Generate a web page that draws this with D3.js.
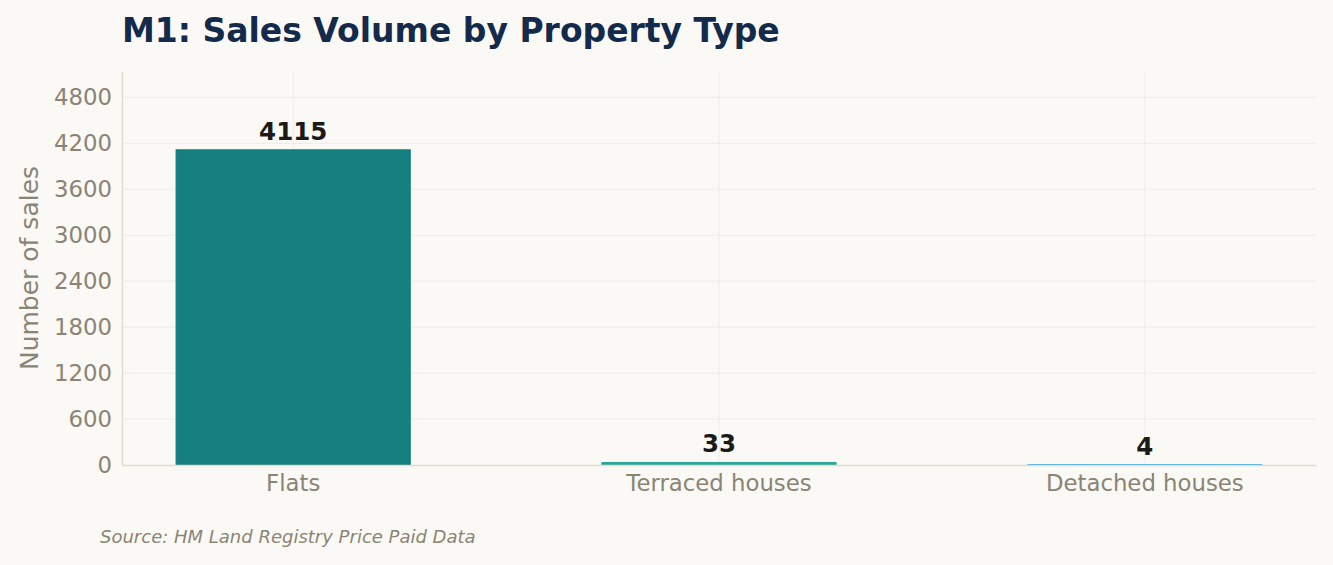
<!DOCTYPE html>
<html>
<head>
<meta charset="utf-8">
<script src="https://cdn.jsdelivr.net/npm/d3@7"></script>
<style>
  html, body { margin: 0; padding: 0; background: #faf9f5; }
  svg { display: block; font-family: "DejaVu Sans", sans-serif; }
</style>
</head>
<body>
<svg id="chart" width="1333" height="565"></svg>
<script>
  // Data
  var categories = ["Flats", "Terraced houses", "Detached houses"];
  var sales = [4115, 33, 4];
  var barColors = ["#167f7f", "#2aa597", "#1fa2e0"];
  var yTicks = [0, 600, 1200, 1800, 2400, 3000, 3600, 4200, 4800];

  var svg = d3.select("svg#chart"),
      width = +svg.attr("width"),
      height = +svg.attr("height");

  var margin = {top: 71, right: 17, bottom: 100, left: 122};
  var x0 = margin.left, x1 = width - margin.right,
      y0 = height - margin.bottom, y1 = margin.top;

  var x = d3.scaleBand().domain(categories).range([x0, x1])
      .paddingInner(0.45).paddingOuter(0.127);
  var y = d3.scaleLinear().domain([0, d3.max(sales) * 1.25]).range([y0, y1]);

  svg.append("rect").attr("width", width).attr("height", height).attr("fill", "#faf9f5");

  // grid
  var grid = svg.append("g");
  grid.selectAll("line.h").data(yTicks.filter(d => d > 0)).enter().append("line")
      .attr("x1", x0).attr("x2", x1)
      .attr("y1", d => y(d)).attr("y2", d => y(d))
      .attr("stroke", "#efebe3").attr("stroke-width", 1);
  grid.selectAll("line.v").data(categories).enter().append("line")
      .attr("x1", d => x(d) + x.bandwidth() / 2).attr("x2", d => x(d) + x.bandwidth() / 2)
      .attr("y1", y1).attr("y2", y0)
      .attr("stroke", "#efebe3").attr("stroke-width", 1);

  // bars (thin edge in the bar colour so tiny values stay visible)
  svg.selectAll("rect.bar").data(sales).enter().append("rect")
      .attr("class", "bar")
      .attr("x", (d, i) => x(categories[i]))
      .attr("width", x.bandwidth())
      .attr("y", d => y(d))
      .attr("height", d => y0 - y(d))
      .attr("fill", (d, i) => barColors[i])
      .attr("stroke", (d, i) => barColors[i])
      .attr("stroke-width", 1);

  // value labels
  svg.selectAll("text.val").data(sales).enter().append("text")
      .attr("x", (d, i) => x(categories[i]) + x.bandwidth() / 2)
      .attr("y", d => y(d) - 10)
      .attr("text-anchor", "middle")
      .style("font-size", "24.5px").style("font-weight", "bold")
      .attr("fill", "#1c1a17")
      .text(d => d);

  // axes
  var yAxis = svg.append("g").attr("transform", "translate(" + x0 + ",0)")
      .call(d3.axisLeft(y).tickValues(yTicks).tickFormat(d3.format("d"))
            .tickSize(0).tickPadding(10));
  var xAxis = svg.append("g").attr("transform", "translate(0," + y0 + ")")
      .call(d3.axisBottom(x).tickSize(0).tickPadding(10));
  [yAxis, xAxis].forEach(function (a) {
      a.select(".domain").attr("stroke", "#e2dccd").attr("stroke-width", 1.5);
      a.selectAll("text").attr("fill", "#8a8474")
          .style("font-size", "22.8px").style("font-family", "DejaVu Sans, sans-serif");
  });

  // titles
  svg.append("text").attr("x", x0).attr("y", 42)
      .style("font-size", "33px").style("font-weight", "bold")
      .attr("fill", "#132a4b")
      .text("M1: Sales Volume by Property Type");

  svg.append("text")
      .attr("transform", "translate(38," + ((y0 + y1) / 2) + ") rotate(-90)")
      .attr("text-anchor", "middle")
      .style("font-size", "25px").attr("fill", "#8a8474")
      .text("Number of sales");

  svg.append("text").attr("x", 100).attr("y", 543)
      .style("font-size", "18px").style("font-style", "italic")
      .attr("fill", "#8a8474")
      .text("Source: HM Land Registry Price Paid Data");
</script>
</body>
</html>
